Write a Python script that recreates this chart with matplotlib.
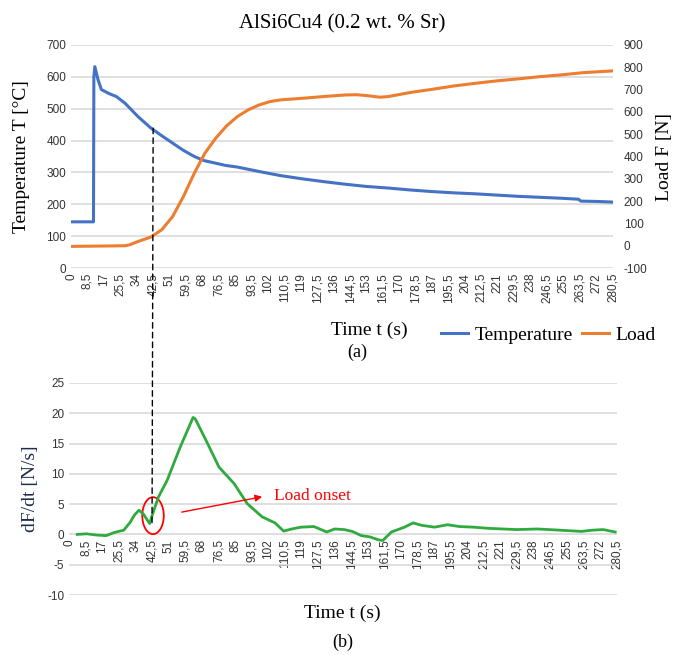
import matplotlib
matplotlib.use("Agg")
import matplotlib.pyplot as plt
from matplotlib.patches import Ellipse, ConnectionPatch
from matplotlib.lines import Line2D

plt.rcParams["axes.unicode_minus"] = False

# ---------------- data ----------------
xtick_labels = ["0", "8,5", "17", "25,5", "34", "42,5", "51", "59,5", "68", "76,5",
                "85", "93,5", "102", "110,5", "119", "127,5", "136", "144,5", "153",
                "161,5", "170", "178,5", "187", "195,5", "204", "212,5", "221",
                "229,5", "238", "246,5", "255", "263,5", "272", "280,5"]

temp_t = [0, 11.6, 11.8, 12.3, 14.0, 15.7, 19.5, 23.5, 28.0, 34.7, 41.4, 47.0, 52.6,
          58.0, 63.8, 69.0, 74.9, 80.0, 86.1, 97.3, 108.5, 119.7, 131.0, 142.0,
          153.0, 164.4, 175.6, 186.8, 198.0, 209.1, 220.3, 231.5, 242.7, 253.9,
          262.8, 264.0, 272.0, 280.7]
temp_v = [145, 145, 600, 632, 590, 560, 548, 538, 517, 475, 439, 415, 392,
          370, 350, 337, 329, 322, 317, 303, 290, 280, 271, 263,
          256, 251, 245, 240, 236, 233, 229, 225, 222, 219,
          216, 210, 209, 207]

load_t = [0, 10, 20, 28.0, 30.2, 34.7, 41.4, 47.0, 52.6, 58.2, 63.8, 69.3, 74.9,
          80.5, 86.1, 91.7, 97.3, 102.9, 108.5, 119.7, 130.9, 142.0, 148.0, 153.2,
          160.0, 164.4, 175.6, 186.8, 198.0, 209.1, 220.3, 231.5, 242.7, 253.9,
          265.1, 280.7]
load_v = [-3, -2, -1, 0, 4, 19, 39, 72, 131, 221, 325, 415, 482,
          537, 579, 609, 631, 646, 654, 661, 669, 676, 677, 673,
          666, 669, 687, 701, 716, 728, 739, 748, 758, 766,
          776, 784]

rate_t = [4.2, 9.0, 14.0, 19.0, 23.0, 28.0, 31.3, 33.5, 35.8, 38.0, 40.2, 41.3,
          42.5, 45.8, 50.2, 56.9, 63.5, 64.6, 70.2, 76.8, 84.5, 91.2, 98.9,
          105.5, 109.9, 114.0, 118.8, 125.4, 132.0, 136.0, 140.9, 145.0, 149.7,
          154.0, 158.5, 160.7, 165.1, 171.8, 176.2, 180.6, 187.2, 193.8, 200.0,
          207.1, 215.0, 229.2, 240.0, 251.4, 262.4, 268.0, 273.5, 279.7]
rate_v = [0.0, 0.1, -0.1, -0.2, 0.3, 0.7, 2.0, 3.2, 4.0, 3.4, 2.3, 1.8,
          3.1, 6.2, 8.9, 14.4, 19.3, 19.1, 15.5, 11.1, 8.4, 5.1, 2.9,
          1.9, 0.55, 0.9, 1.2, 1.3, 0.4, 0.9, 0.8, 0.5, -0.2,
          -0.4, -0.9, -1.0, 0.4, 1.2, 1.9, 1.5, 1.2, 1.6, 1.3,
          1.2, 1.0, 0.8, 0.9, 0.7, 0.5, 0.7, 0.8, 0.4]

# ---------------- styling ----------------
serif = ["Liberation Serif", "DejaVu Serif"]
tick_font = ["Liberation Sans", "DejaVu Sans"]
grid_col = "#d9d9d9"
tick_col = "#333333"
blue = "#4472c4"
orange = "#ed7d31"
green = "#2eaa3f"

xticks = [float(s.replace(",", ".")) for s in xtick_labels]

fig = plt.figure(figsize=(6.77, 6.55), dpi=100)

def style_axis(ax):
    for s in ax.spines.values():
        s.set_visible(False)
    ax.tick_params(length=0, labelsize=8.5, colors=tick_col)
    ax.grid(axis="y", color=grid_col, lw=1.2)
    ax.set_axisbelow(True)

def set_labels(ax, ylo, yhi, step):
    ax.set_yticks(range(ylo, yhi + 1, step))
    ax.set_yticklabels([str(v) for v in range(ylo, yhi + 1, step)], family=tick_font)
    ax.set_xticks(xticks)
    ax.set_xticklabels(xtick_labels, rotation=90, family=tick_font)

# ---------- top panel ----------
ax1 = fig.add_axes([0.105, 0.5908, 0.800, 0.3405])
ax1.plot(temp_t, temp_v, color=blue, lw=2.2, label="Temperature")
ax1.set_ylim(0, 700)
ax1.set_xlim(0, 280.5)
style_axis(ax1)
set_labels(ax1, 0, 700, 100)
ax1.set_ylabel("Temperature T [°C]", family=serif, fontsize=14, labelpad=12)

ax1b = ax1.twinx()
ax1b.plot(load_t, load_v, color=orange, lw=2.2, label="Load")
ax1b.set_ylim(-100, 900)
ax1b.set_yticks(range(-100, 901, 100))
ax1b.set_yticklabels([str(v) for v in range(-100, 901, 100)], family=tick_font)
for s in ax1b.spines.values():
    s.set_visible(False)
ax1b.tick_params(length=0, labelsize=8.5, colors=tick_col, pad=8)
ax1b.set_ylabel("Load F [N]", family=serif, fontsize=14, labelpad=6)

ax1.set_title("AlSi6Cu4 (0.2 wt. % Sr)", family=serif, fontsize=15, pad=12)

fig.text(0.545, 0.496, "Time t (s)", family=serif, fontsize=14, ha="center", va="center")
fig.text(0.527, 0.462, "(a)", family=serif, fontsize=13, ha="center", va="center")

handles = [Line2D([], [], color=blue, lw=2.2), Line2D([], [], color=orange, lw=2.2)]
fig.legend(handles, ["Temperature", "Load"], loc="center", ncol=2,
           bbox_to_anchor=(0.81, 0.489), frameon=False,
           prop={"family": serif, "size": 14}, handlelength=1.4,
           handletextpad=0.3, columnspacing=0.5)

# ---------- bottom panel ----------
ax2 = fig.add_axes([0.102, 0.0916, 0.809, 0.3237])
ax2.plot(rate_t, rate_v, color=green, lw=2.0)
ax2.set_ylim(-10, 25)
ax2.set_xlim(0, 280.5)
style_axis(ax2)
ax2.spines["bottom"].set_position(("data", 0))
ax2.spines["bottom"].set_visible(False)
style_axis(ax2)
set_labels(ax2, -10, 25, 5)
ax2.set_ylabel("dF/dt [N/s]", family=serif, fontsize=14, color="#1f2d4d", labelpad=6)

fig.text(0.505, 0.064, "Time t (s)", family=serif, fontsize=14, ha="center", va="center")
fig.text(0.507, 0.020, "(b)", family=serif, fontsize=13, ha="center", va="center")

ax2.add_patch(Ellipse((43, 3.1), 11, 6.1, fill=False, edgecolor="red", lw=1.3))
ax2.annotate("", xy=(100.3, 6.3), xytext=(56.3, 3.6),
             arrowprops=dict(arrowstyle="-|>", color="red", lw=1.0, mutation_scale=10))
ax2.text(105, 6.4, "Load onset", color="red", family=serif, fontsize=12.5, va="center")

# dashed onset line across both panels
con = ConnectionPatch(xyA=(42.5, 439), coordsA=ax1.transData,
                      xyB=(42.5, 1.5), coordsB=ax2.transData,
                      linestyle=(0, (4, 3)), color="black", lw=1.0)
fig.add_artist(con)

fig.savefig("out.png", dpi=100)
